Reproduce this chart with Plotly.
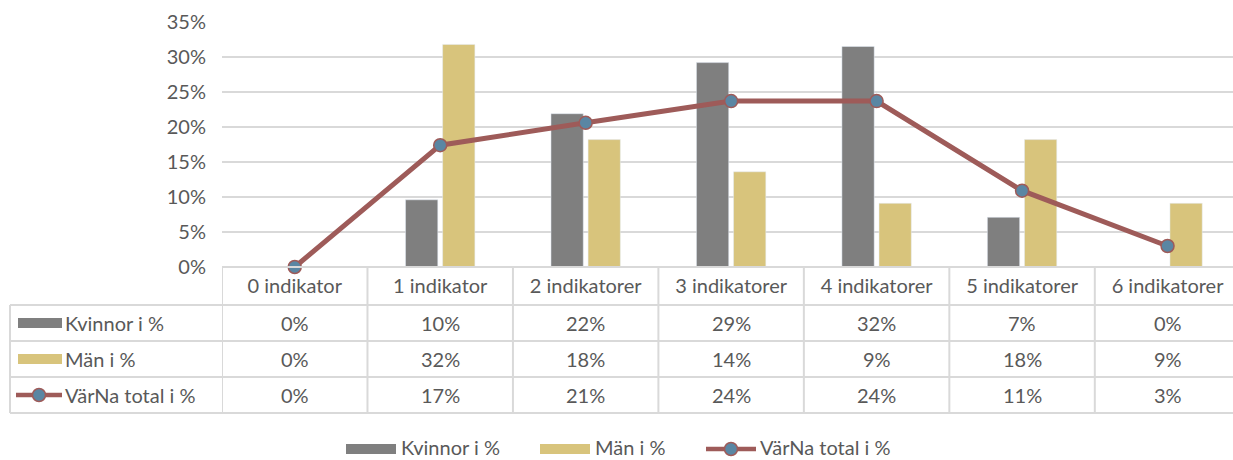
import plotly.graph_objects as go

categories = ["0 indikator", "1 indikator", "2 indikatorer", "3 indikatorer",
              "4 indikatorer", "5 indikatorer", "6 indikatorer"]
kvinnor = [0.0, 9.6, 21.9, 29.2, 31.5, 7.1, 0.0]
man = [0.0, 31.8, 18.2, 13.6, 9.1, 18.2, 9.1]
total = [0.0, 17.4, 20.6, 23.7, 23.7, 10.9, 3.0]
series_names = ["Kvinnor i %", "Män i %", "VärNa total i %"]
y_ticks = [0, 5, 10, 15, 20, 25, 30, 35]

C_K = "#7F7F7F"
C_M = "#D8C47C"
C_L = "#9E5B59"
C_MK = "#5A86A3"
TXT = "#595959"
GRID = "#D9D9D9"
FONT = "Lato"
FS = 20

W, H = 1233, 460
L, R, T, B = 222, 0, 22, 193
PW, PH = W - L - R, H - T - B


def py(p):
    return (H - B - p) / PH


def px(p):
    return (p - L) / PW


fig = go.Figure()
fig.add_trace(go.Bar(x=categories, y=kvinnor, name=series_names[0], marker_color=C_K,
                     showlegend=False))
fig.add_trace(go.Bar(x=categories, y=man, name=series_names[1], marker_color=C_M,
                     showlegend=False))
fig.add_trace(go.Scatter(x=categories, y=total, name=series_names[2], mode="lines+markers",
                         line=dict(color=C_L, width=5),
                         marker=dict(size=13, color=C_MK, line=dict(color=C_L, width=1.5)),
                         showlegend=False, cliponaxis=False))

shapes = []
line_style = dict(color=GRID, width=2)
hdr_top, r1, r2, r3, r4 = 267, 305, 341, 377, 413
left_edge = 10
shapes.append(dict(type="line", xref="paper", yref="paper", x0=0, x1=1,
                   y0=py(hdr_top), y1=py(hdr_top), line=line_style))
for yy in (r1, r2, r3, r4):
    shapes.append(dict(type="line", xref="paper", yref="paper", x0=px(left_edge), x1=1,
                       y0=py(yy), y1=py(yy), line=line_style))
shapes.append(dict(type="line", xref="paper", yref="paper", x0=px(left_edge), x1=px(left_edge),
                   y0=py(r1), y1=py(r4), line=line_style))
for i in range(len(categories) + 1):
    shapes.append(dict(type="line", xref="x", yref="paper", x0=i - 0.5, x1=i - 0.5,
                       y0=py(hdr_top), y1=py(r4), line=line_style))

annotations = []
rows = [(kvinnor, r1, r2), (man, r2, r3), (total, r3, r4)]
for (vals, a, b), name in zip(rows, series_names):
    yc = py((a + b) / 2)
    for c, v in zip(categories, vals):
        annotations.append(dict(x=c, y=yc, xref="x", yref="paper", text=f"{round(v)}%",
                                xanchor="center", yanchor="middle", showarrow=False,
                                font=dict(family=FONT, size=FS, color=TXT)))
    annotations.append(dict(x=px(63), y=yc, xref="paper", yref="paper", text=name,
                            xanchor="left", yanchor="middle", showarrow=False,
                            font=dict(family=FONT, size=FS, color=TXT)))


def key(x0, x1, yc, kind, color):
    if kind == "bar":
        shapes.append(dict(type="rect", xref="paper", yref="paper", x0=px(x0), x1=px(x1),
                           y0=py(yc + 5), y1=py(yc - 5), fillcolor=color, line=dict(width=0)))
    else:
        shapes.append(dict(type="line", xref="paper", yref="paper", x0=px(x0), x1=px(x1),
                           y0=py(yc), y1=py(yc), line=dict(color=C_L, width=4.5)))
        m = (x0 + x1) / 2
        shapes.append(dict(type="circle", xref="paper", yref="paper", x0=px(m - 6.5), x1=px(m + 6.5),
                           y0=py(yc + 6.5), y1=py(yc - 6.5), fillcolor=C_MK,
                           line=dict(color=C_L, width=1.5)))


key(18, 62, (r1 + r2) / 2, "bar", C_K)
key(18, 62, (r2 + r3) / 2, "bar", C_M)
key(16, 62, (r3 + r4) / 2, "line", None)

ly = 447
key(346, 396, ly + 2, "bar", C_K)
key(540, 590, ly + 2, "bar", C_M)
key(706, 756, ly + 2, "line", None)
for xt, name in zip((399, 593, 758), series_names):
    annotations.append(dict(x=px(xt), y=py(ly), xref="paper", yref="paper", text=name,
                            xanchor="left", yanchor="middle", showarrow=False,
                            font=dict(family=FONT, size=FS, color=TXT)))

fig.update_layout(
    width=W, height=H,
    margin=dict(l=L, r=R, t=T, b=B, autoexpand=False),
    paper_bgcolor="white", plot_bgcolor="white",
    barmode="group", bargap=0.49, bargroupgap=0.13,
    font=dict(family=FONT, size=FS, color=TXT),
    shapes=shapes, annotations=annotations,
    xaxis=dict(type="category", range=[-0.5, 6.45], showgrid=False, zeroline=False,
               showline=False, ticks="", ticklabelstandoff=5,
               tickfont=dict(family=FONT, size=FS, color=TXT)),
    yaxis=dict(range=[0, 35], tickvals=y_ticks, ticktext=[f"{v}%" for v in y_ticks],
               showgrid=True, gridcolor=GRID, gridwidth=2, zeroline=False, showline=False,
               ticks="", ticklabelstandoff=15,
               tickfont=dict(family=FONT, size=FS, color=TXT)),
)

fig.write_html("out.html", config={"displayModeBar": False},
               post_script="document.body.style.margin='0';document.body.style.overflow='hidden';")
